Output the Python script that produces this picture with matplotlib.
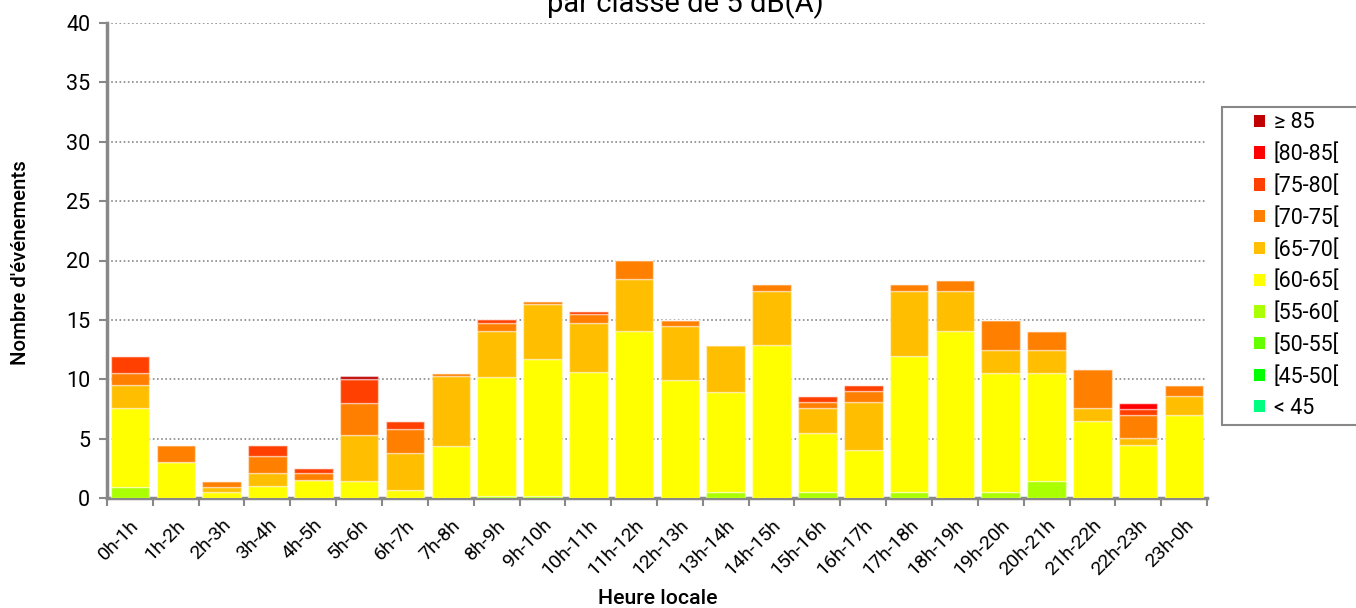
import numpy as np
import matplotlib.pyplot as plt
from matplotlib.patches import Rectangle

''' Data '''
heures = ['0h-1h', '1h-2h', '2h-3h', '3h-4h', '4h-5h', '5h-6h', '6h-7h', '7h-8h',
          '8h-9h', '9h-10h', '10h-11h', '11h-12h', '12h-13h', '13h-14h', '14h-15h',
          '15h-16h', '16h-17h', '17h-18h', '18h-19h', '19h-20h', '20h-21h',
          '21h-22h', '22h-23h', '23h-0h']

classes = ['< 45', '[45-50[', '[50-55[', '[55-60[', '[60-65[', '[65-70[',
           '[70-75[', '[75-80[', '[80-85[', '\u2265 85']

c_lt45 = [0]*24
c_45_50 = [0]*24
c_50_55 = [0]*24
c_55_60 = [0.95, 0, 0, 0, 0, 0, 0, 0, 0.15, 0.15, 0, 0, 0, 0.5, 0, 0.5, 0, 0.5, 0, 0.5, 1.45, 0, 0, 0]
c_60_65 = [6.65, 3.05, 0.5, 1.0, 1.5, 1.4, 0.7, 4.4, 10.05, 11.55, 10.65, 14.05, 9.95, 8.45, 12.9,
           5.0, 4.05, 11.45, 14.05, 10.05, 9.1, 6.45, 4.5, 7.0]
c_65_70 = [1.95, 0, 0.45, 1.1, 0, 3.9, 3.1, 5.85, 3.85, 4.65, 4.1, 4.4, 4.55, 3.95, 4.55,
           2.1, 4.0, 5.5, 3.4, 1.95, 1.95, 1.15, 0.55, 1.55]
c_70_75 = [1.0, 1.4, 0.5, 1.4, 0.6, 2.7, 2.0, 0.3, 0.7, 0.25, 0.75, 1.55, 0.5, 0, 0.55,
           0.45, 1.0, 0.55, 0.95, 2.5, 1.55, 3.3, 1.95, 0.95]
c_75_80 = [1.4, 0, 0, 0.95, 0.45, 2.0, 0.7, 0, 0.3, 0, 0.25, 0, 0, 0, 0,
           0.55, 0.5, 0, 0, 0, 0, 0, 0.5, 0]
c_80_85 = [0]*22 + [0.5, 0]
c_ge85 = [0, 0, 0, 0, 0, 0.3] + [0]*18

series = [c_lt45, c_45_50, c_50_55, c_55_60, c_60_65, c_65_70, c_70_75, c_75_80, c_80_85, c_ge85]
couleurs = ['#00FF80', '#00FF00', '#66FF00', '#AAFF00', '#FFFF00', '#FFBF00',
            '#FF8000', '#FF4000', '#FF0000', '#C00000']

''' Graphing '''
plt.rcParams['font.family'] = ['Roboto', 'DejaVu Sans']

fig = plt.figure(figsize=(13.56, 6.08), dpi=100)
ax = fig.add_axes([107/1356, 1-498/608, 1100/1356, 475/608])

x = np.arange(len(heures))
bottom = np.zeros(len(heures))
handles = []
for vals, col, lab in zip(series, couleurs, classes):
    vals = np.array(vals, dtype=float)
    b = ax.bar(x, vals, 0.84, bottom=bottom, color=col, label=lab,
               edgecolor=(1, 1, 1, 0.45), linewidth=1, zorder=3)
    handles.append(b)
    bottom += vals

ax.set_xlim(-0.5, 23.5)
ax.set_ylim(0, 40)
ax.set_yticks(np.arange(0, 41, 5))
ax.yaxis.grid(True, color='#888888', linestyle=(0, (1, 1.5)), linewidth=1.2, zorder=0)
ax.set_xticks(x)
ax.set_xticklabels(heures, rotation=45, ha='right', rotation_mode='anchor', fontsize=14)
ax.set_xticks(np.arange(-0.5, 24, 1), minor=True)
ax.tick_params(axis='x', which='major', length=0, pad=13)
ax.tick_params(axis='x', which='minor', length=6, width=1.5, color='#888888')
ax.tick_params(axis='y', length=6, width=1.5, color='#888888', labelsize=15.5, pad=6)

for s in ['top', 'right']:
    ax.spines[s].set_visible(False)
for s in ['left', 'bottom']:
    ax.spines[s].set_color('#888888')
    ax.spines[s].set_linewidth(2.5)

fig.text(21/1356, 1-263/608, "Nombre d'\u00e9v\u00e9nements", rotation=90, ha='center', va='center',
         fontsize=14.7, fontweight='medium')
fig.text(658/1356, 1-599/608, 'Heure locale', ha='center', va='center', fontsize=15.3, fontweight='medium')
fig.text(685/1356, 1-12/608, 'par classe de 5 dB(A)', ha='center', va='baseline', fontsize=21)

# legend box runs off the right edge like the original
fig.patches.append(Rectangle((1222/1356, 1-425/608), 0.2, 318/608, transform=fig.transFigure,
                             facecolor='white', edgecolor='#888888', linewidth=1.5, zorder=1))
leg = fig.legend(handles[::-1], classes[::-1], loc='upper left',
                 bbox_to_anchor=(1248/1356, 1-106/608), bbox_transform=fig.transFigure,
                 frameon=False, fontsize=15.5, labelspacing=0.47,
                 handlelength=0.5, handleheight=0.5, handletextpad=0.4, borderpad=0.3,
                 borderaxespad=0)
for h in leg.legend_handles:
    h.set_edgecolor('none')

fig.savefig('out.png', dpi=100)
